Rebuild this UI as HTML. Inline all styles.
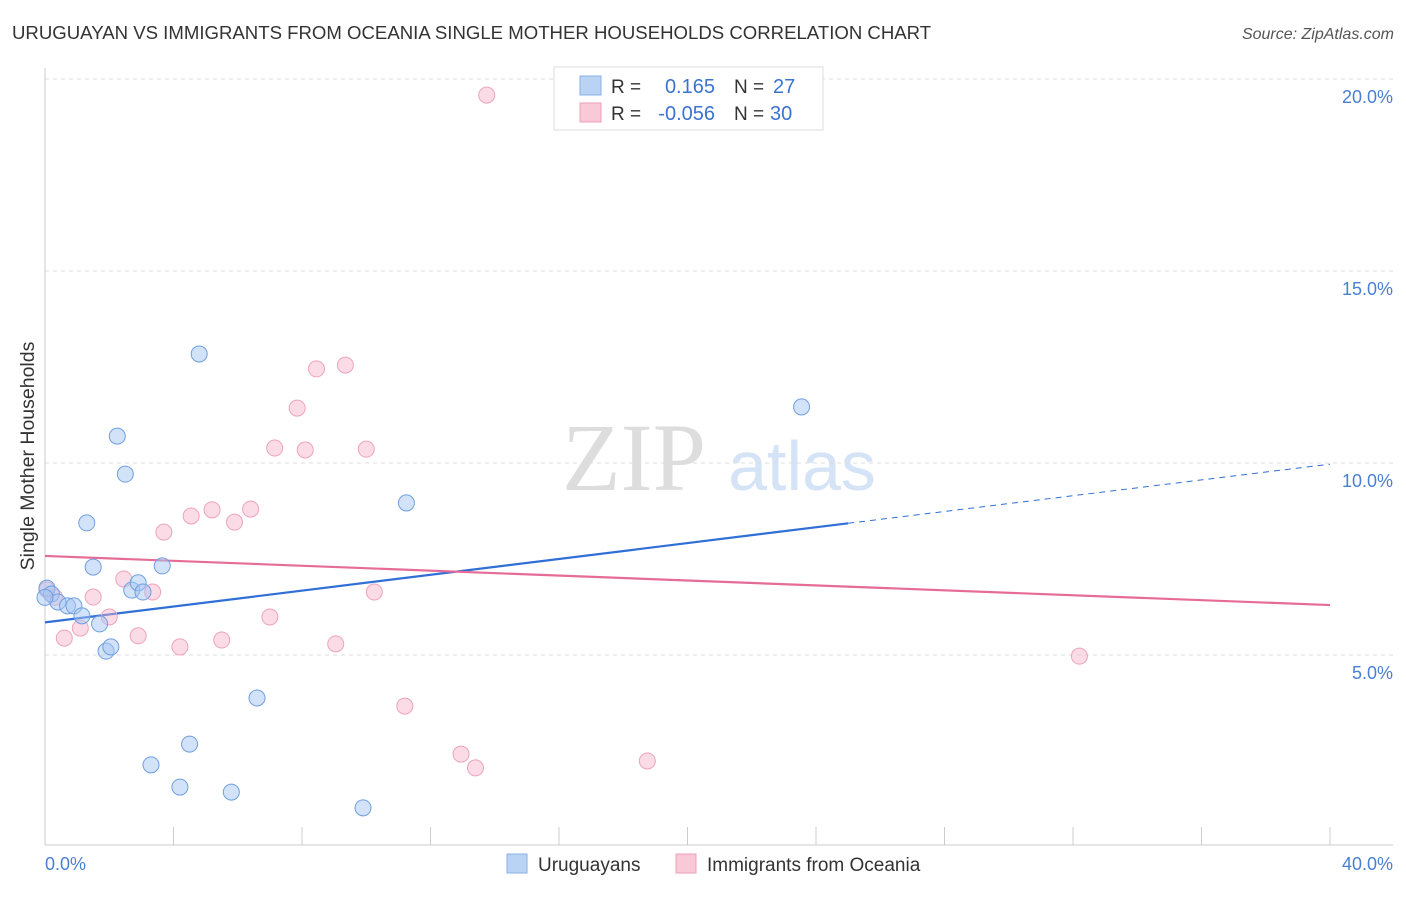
<!DOCTYPE html>
<html><head><meta charset="utf-8"><style>
body{margin:0;background:#fff;font-family:"Liberation Sans",sans-serif;}
</style></head><body>
<svg id="chart" width="1406" height="892" xmlns="http://www.w3.org/2000/svg" font-family="Liberation Sans, sans-serif">
<text x="12" y="39" font-size="18.6" fill="#333">URUGUAYAN VS IMMIGRANTS FROM OCEANIA SINGLE MOTHER HOUSEHOLDS CORRELATION CHART</text>
<text x="1394" y="39" font-size="16" fill="#555" text-anchor="end" font-style="italic">Source: ZipAtlas.com</text>
<g>
<text x="634" y="490" font-size="96" fill="#ddd" text-anchor="middle" font-family="Liberation Serif, serif">ZIP</text>
<text x="802" y="490" font-size="70" fill="#d4e3f5" text-anchor="middle">atlas</text>
</g>
<g id="grid"></g><g id="axes"></g><g id="lines"></g><g id="pts"></g>
<text transform="translate(34,456) rotate(-90)" font-size="19.5" fill="#333" text-anchor="middle">Single Mother Households</text>
<text x="45" y="870" font-size="18" fill="#4a7fd4">0.0%</text>
<text x="1393" y="870" font-size="18" fill="#4a7fd4" text-anchor="end">40.0%</text>
<g>
<rect x="554" y="67" width="269" height="63" fill="#fff" stroke="#ddd"/>
<rect x="580" y="76" width="21" height="19" fill="#b9d3f5" stroke="#8ab2e8"/>
<rect x="580" y="103" width="21" height="19" fill="#f9c9d7" stroke="#efa0b8"/>
<text x="611" y="93" font-size="19" fill="#333">R =</text>
<text x="715" y="93" font-size="20" fill="#3a73d0" text-anchor="end">0.165</text>
<text x="734" y="93" font-size="19" fill="#333">N =</text>
<text x="773" y="93" font-size="20" fill="#3a73d0">27</text>
<text x="611" y="120" font-size="19" fill="#333">R =</text>
<text x="715" y="120" font-size="20" fill="#3a73d0" text-anchor="end">-0.056</text>
<text x="734" y="120" font-size="19" fill="#333">N =</text>
<text x="770" y="120" font-size="20" fill="#3a73d0">30</text>
</g>
<g>
<rect x="507" y="854" width="20" height="19" fill="#b9d3f5" stroke="#8ab2e8"/>
<text x="538" y="871" font-size="19" fill="#333">Uruguayans</text>
<rect x="676" y="854" width="20" height="19" fill="#f9c9d7" stroke="#efa0b8"/>
<text x="707" y="871" font-size="19" fill="#333">Immigrants from Oceania</text>
</g>
</svg>
<script>
const yTicks=[5,10,15,20];
const yTickLabels=["5.0%","10.0%","15.0%","20.0%"];
const xTicks=[0,4,8,12,16,20,24,28,32,36,40];
const blueX=[0.06,0.2,0.4,0.7,0.9,1.15,1.3,1.5,1.7,1.9,2.05,2.25,2.5,2.7,2.9,3.05,3.3,3.65,4.2,4.5,4.8,5.8,6.6,9.9,11.25,23.55,0];
const blueY=[6.74,6.59,6.38,6.28,6.28,6.02,8.44,7.29,5.81,5.1,5.21,10.7,9.71,6.69,6.88,6.64,2.14,7.32,1.56,2.68,12.84,1.43,3.88,1.02,8.96,11.46,6.5];
const pinkX=[0.06,0.3,0.6,1.1,1.5,2.0,2.45,2.9,3.35,3.7,4.2,4.55,5.2,5.5,5.9,6.4,7.0,7.15,7.85,8.1,8.45,9.05,9.35,10.0,10.25,11.2,12.95,13.4,13.75,18.75,32.2];
const pinkY=[6.7,6.5,5.44,5.7,6.51,5.99,6.98,5.5,6.64,8.2,5.21,8.62,8.78,5.39,8.46,8.8,5.99,10.39,11.43,10.34,12.45,5.29,12.55,10.36,6.64,3.67,2.42,2.06,19.58,2.24,4.97];
const blueTrend=[[0,5.85],[25,8.43],[40,9.97]];
const pinkTrend=[[0,7.58],[40,6.3]];
(function(){
const NS="http://www.w3.org/2000/svg";
const xs=v=>45+v*32.125, ys=v=>847-v*38.4;
function mk(t,a,p){const e=document.createElementNS(NS,t);for(const k in a)e.setAttribute(k,a[k]);document.getElementById(p).appendChild(e);return e;}
yTicks.forEach((t,i)=>{
 const g=mk('line',{x1:45,x2:1393,y1:ys(t),y2:ys(t),stroke:'#ddd','stroke-dasharray':'4,4'},'grid');
 
 
 const l=mk('text',{x:1393,y:ys(t)+24,'font-size':18,fill:'#4a7fd4','text-anchor':'end'},'grid');l.textContent=yTickLabels[i];
 
 
});
mk('line',{x1:45,x2:1393,y1:79,y2:79,stroke:'#ddd','stroke-dasharray':'4,4'},'grid');
mk('line',{x1:45,x2:45,y1:68,y2:845,stroke:'#ccc'},'axes');
const xa=mk('line',{x1:45,x2:1393,y1:845,y2:845,stroke:'#ccc'},'axes');


xTicks.forEach(t=>{const e=mk('line',{x1:xs(t),x2:xs(t),y1:827,y2:845,stroke:'#ccc'},'axes');
 
 });
let b=mk('line',{x1:xs(blueTrend[0][0]),y1:ys(blueTrend[0][1]),x2:xs(blueTrend[1][0]),y2:ys(blueTrend[1][1]),stroke:'#2f6fd6','stroke-width':2.2},'lines');


b=mk('line',{x1:xs(blueTrend[1][0]),y1:ys(blueTrend[1][1]),x2:xs(blueTrend[2][0]),y2:ys(blueTrend[2][1]),stroke:'#2f6fd6','stroke-width':1,'stroke-dasharray':'6,5'},'lines');


b=mk('line',{x1:xs(pinkTrend[0][0]),y1:ys(pinkTrend[0][1]),x2:xs(pinkTrend[1][0]),y2:ys(pinkTrend[1][1]),stroke:'#e66b97','stroke-width':2.2},'lines');


pinkX.forEach((x,i)=>{const c=mk('circle',{cx:xs(x),cy:ys(pinkY[i]),r:8,fill:'rgba(246,178,200,0.45)',stroke:'#eea3bc'},'pts');
 
 });
blueX.forEach((x,i)=>{const c=mk('circle',{cx:xs(x),cy:ys(blueY[i]),r:8,fill:'rgba(165,198,242,0.5)',stroke:'#6f9fe0'},'pts');
 
 });
})();
</script>
</body></html>
